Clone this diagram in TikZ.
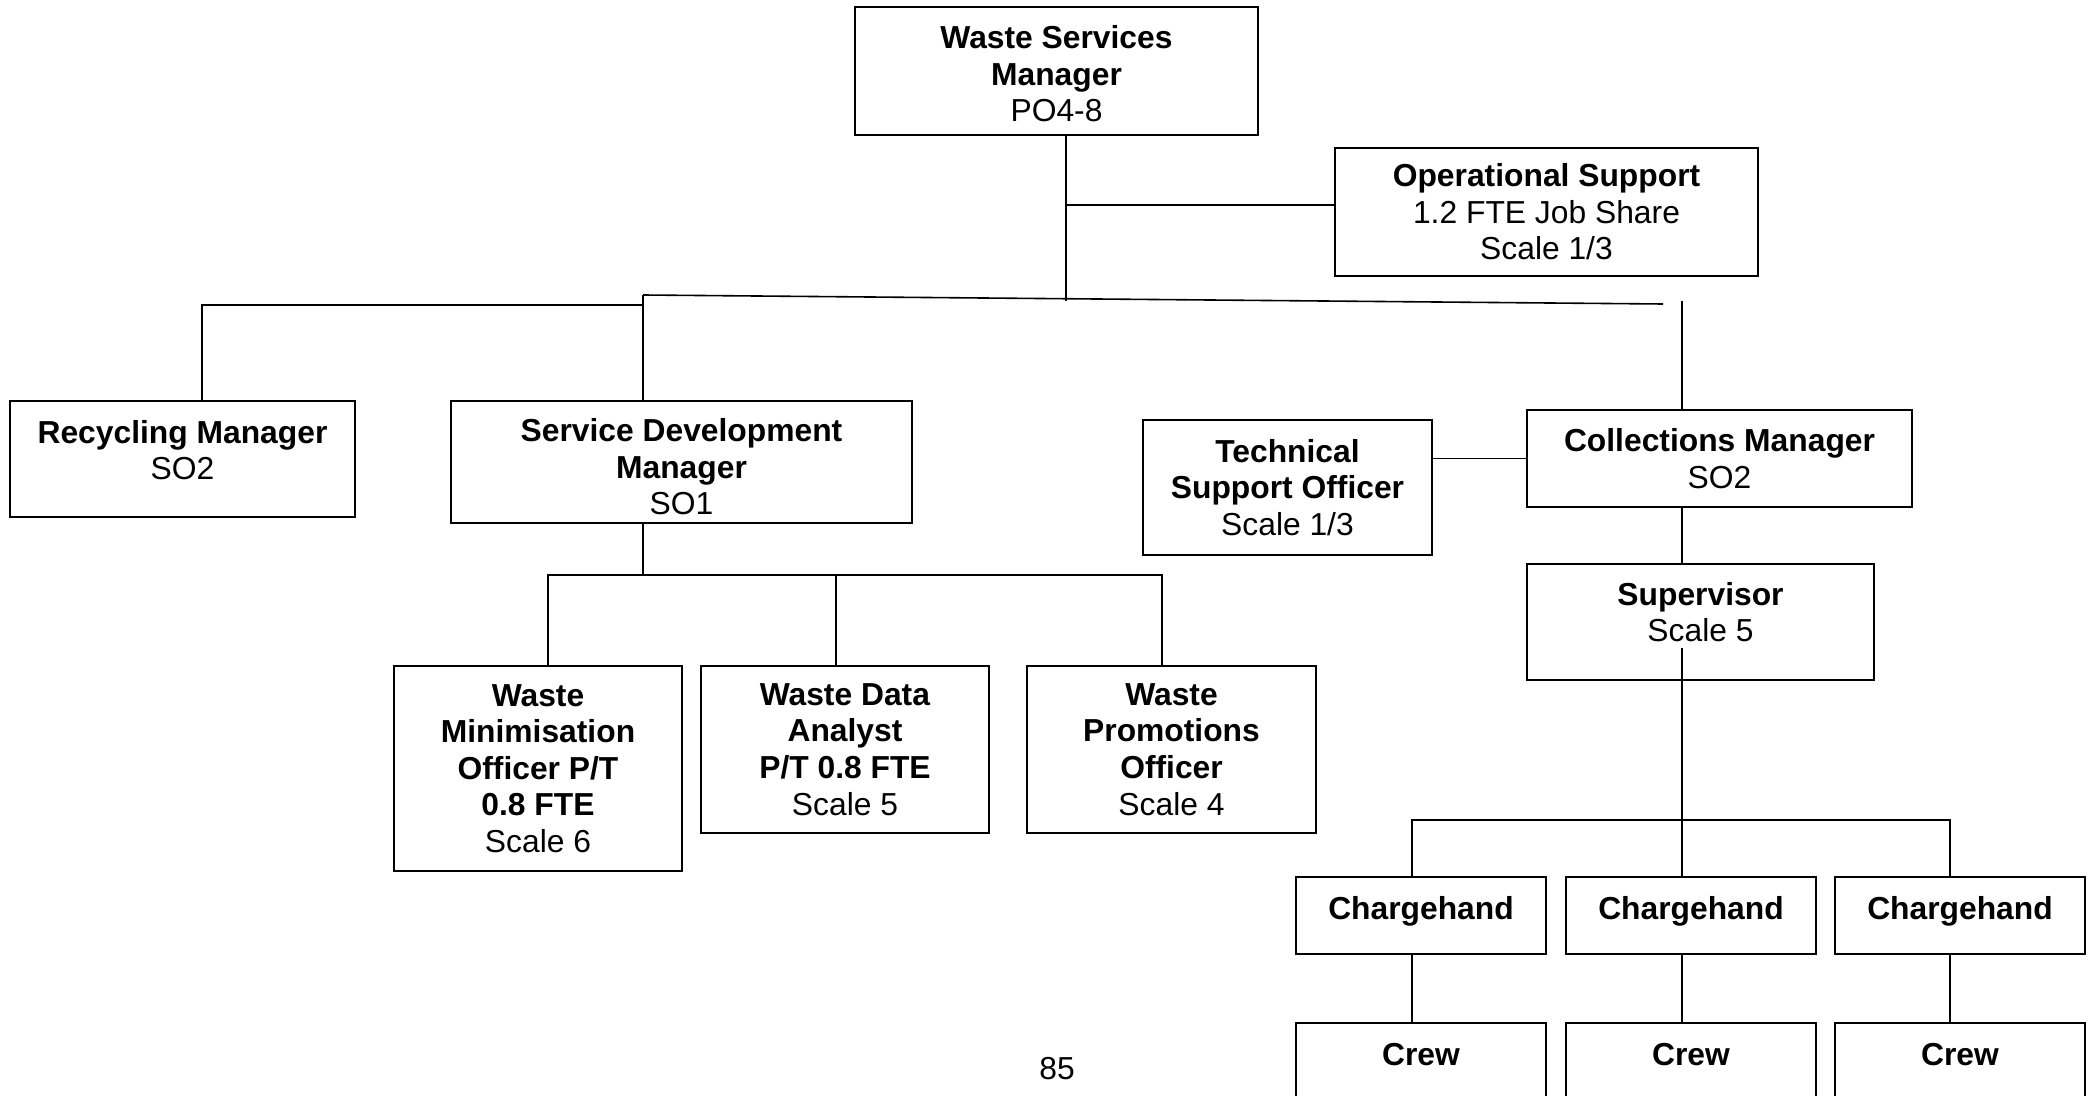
\documentclass[tikz,border=0pt]{standalone}
\usepackage{fontspec}
\setmainfont{Liberation Sans}
% text block moved up or down inside its box
\newcommand\liftpost[2]{\raisebox{#1}[\height][\depth]{\begin{tabular}{@{}c@{}}#2\end{tabular}}}
\begin{document}
\begin{tikzpicture}[x=0.5pt,y=-0.5pt,
  post/.style={draw,line width=1pt,align=center,inner sep=0pt,font=\fontsize{15.9}{18.3}\selectfont},
  handbox/.style={post,minimum width=125pt,text height=21pt,text depth=17.5pt,anchor=base},
  crewbox/.style={post,minimum width=125pt,text height=21pt,text depth=28pt,anchor=base},
  link/.style={line width=0.8pt}]
\useasboundingbox (0,0) rectangle (2089,1096);

% Top level
\node[post,minimum width=201.5pt,minimum height=64pt] (wsm) at (1056.5,71) {\liftpost{-3.5pt}{\textbf{Waste Services}\\\textbf{Manager}\\PO4-8}};
\node[post,minimum width=211.5pt,minimum height=64pt] (ops) at (1546.5,212) {\textbf{Operational Support}\\1.2 FTE Job Share\\Scale 1/3};

% Managers
\node[post,minimum width=172.5pt,minimum height=58pt] (rec) at (182.5,459) {\liftpost{2.5pt}{\textbf{Recycling Manager}\\SO2}};
\node[post,minimum width=230.5pt,minimum height=61pt] (sdm) at (681.5,462) {\liftpost{-4.5pt}{\textbf{Service Development}\\\textbf{Manager}\\SO1}};
\node[post,minimum width=144.5pt,minimum height=67.5pt] (tech) at (1287.5,487.5) {\textbf{Technical}\\\textbf{Support Officer}\\Scale 1/3};
\node[post,minimum width=192.5pt,minimum height=48.5pt] (col) at (1719.5,458.5) {\textbf{Collections Manager}\\SO2};
\node[post,minimum width=173.5pt,minimum height=58pt] (sup) at (1700.5,622) {\liftpost{3pt}{\textbf{Supervisor}\\Scale 5}};

% Service development team
\node[post,minimum width=144pt,minimum height=102.5pt] (wmo) at (538,768.5) {\textbf{Waste}\\\textbf{Minimisation}\\\textbf{Officer P/T}\\\textbf{0.8 FTE}\\Scale 6};
\node[post,minimum width=144pt,minimum height=83.5pt] (wda) at (845,749.5) {\textbf{Waste Data}\\\textbf{Analyst}\\\textbf{P/T 0.8 FTE}\\Scale 5};
\node[post,minimum width=144.5pt,minimum height=83.5pt] (wpo) at (1171.5,749.5) {\textbf{Waste}\\\textbf{Promotions}\\\textbf{Officer}\\Scale 4};

% Collections team
\node[handbox] (ch1) at (1421,919) {\textbf{Chargehand}};
\node[handbox] (ch2) at (1691,919) {\textbf{Chargehand}};
\node[handbox] (ch3) at (1960,919) {\textbf{Chargehand}};
\node[crewbox] (crew1) at (1421,1065) {\textbf{Crew}};
\node[crewbox] (crew2) at (1691,1065) {\textbf{Crew}};
\node[crewbox] (crew3) at (1960,1065) {\textbf{Crew}};

% Page number
\node[font=\fontsize{15.9}{18.3}\selectfont] (page) at (1057,1069) {85};

% Junctions
\coordinate (j0) at (1066,301);
\coordinate (jops) at (1066,205);
\coordinate (jl) at (643,295);
\coordinate (jr) at (1663,304);
\coordinate (jrec) at (202,305);
\coordinate (jc) at (1682,301);
\coordinate (jsupin) at (1682,648);
\coordinate (jch1) at (1412,820);
\coordinate (jch3) at (1950,820);
\coordinate (jwmo) at (548,575);
\coordinate (jwda) at (836,575);
\coordinate (jwpo) at (1162,575);

% Connectors
\draw[link] (wsm.south -| j0) -- (j0);
\draw[link] (jops) -- (jops -| ops.west);
\draw[link] (jl) -- (jr);
\draw[link] (jrec |- rec.north) -- (jrec) -- (jl |- jrec);
\draw[link] (jl) -- (jl |- sdm.north);
\draw[link] (jc) -- (jc |- col.north);
\draw[link] (col.west) -- (col.west -| tech.east);
\draw[link] (jc |- col.south) -- (jc |- sup.north);
\draw[link] (jsupin) -- (jc |- ch2.north);
\draw[link] (jch1 |- ch1.north) -- (jch1) -- (jch3) -- (jch3 |- ch3.north);
\draw[link] (jch1 |- ch1.south) -- (jch1 |- crew1.north);
\draw[link] (jc |- ch2.south) -- (jc |- crew2.north);
\draw[link] (jch3 |- ch3.south) -- (jch3 |- crew3.north);
\draw[link] (jl |- sdm.south) -- (jl |- jwmo);
\draw[link] (jwmo |- wmo.north) -- (jwmo) -- (jwpo) -- (jwpo |- wpo.north);
\draw[link] (jwda) -- (jwda |- wda.north);
\end{tikzpicture}
\end{document}
